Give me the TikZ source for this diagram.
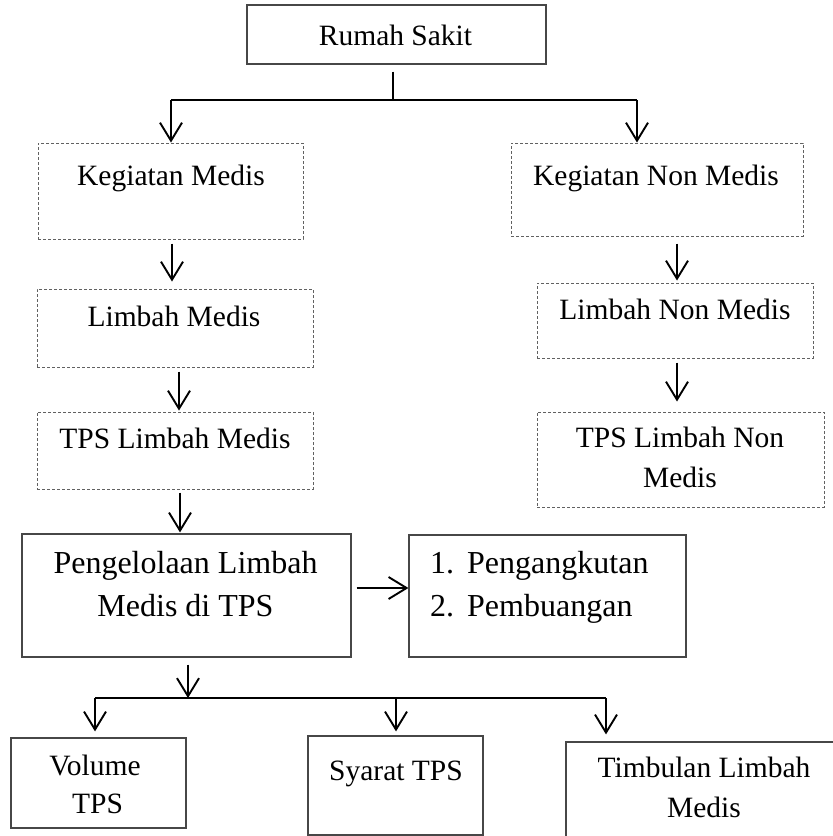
\documentclass[tikz,border=0pt]{standalone}
\usepackage{fontspec}
\setmainfont{Liberation Serif}
\usetikzlibrary{arrows.meta}
\begin{document}
\begin{tikzpicture}[x=1pt,y=-1pt,
  solidbox/.style={draw=black!72, line width=1.2pt, rectangle, inner sep=0pt},
  dashbox/.style={draw=black!62, line width=1pt, dash pattern=on 3.2pt off 1.8pt, rectangle, inner sep=0pt},
  txt/.style={anchor=base, inner sep=0pt, font=\fontsize{29.5}{35}\selectfont},
  bigtxt/.style={anchor=base, inner sep=0pt, font=\fontsize{32}{38}\selectfont},
  conn/.style={line width=1.9pt, black},
  arr/.style={conn, -{Straight Barb[length=18pt,width=22pt]}},
]
\path[use as bounding box, fill=white] (0,0) rectangle (833,836);

% boxes
\node[solidbox, minimum width=299pt, minimum height=59pt] (rs) at (396.5,34.5) {};
\node[dashbox, minimum width=265pt, minimum height=96pt] (km) at (170.5,191) {};
\node[dashbox, minimum width=292pt, minimum height=93pt] (knm) at (657,189.5) {};
\node[dashbox, minimum width=276pt, minimum height=78pt] (lm) at (175,328) {};
\node[dashbox, minimum width=276pt, minimum height=77pt] (tps) at (175,450.5) {};
\node[dashbox, minimum width=276pt, minimum height=75pt] (lnm) at (675,320.5) {};
\node[dashbox, minimum width=287pt, minimum height=95pt] (tpsn) at (680.5,459.5) {};
\node[solidbox, minimum width=329pt, minimum height=123pt] (peng) at (186.5,595.5) {};
\node[solidbox, minimum width=277pt, minimum height=122pt] (list) at (547.5,596) {};
\node[solidbox, minimum width=175pt, minimum height=90pt] (vol) at (98.5,783) {};
\node[solidbox, minimum width=175pt, minimum height=99pt] (syr) at (395.5,785.5) {};
\node[solidbox, minimum width=284pt, minimum height=108pt] (tim) at (708,796) {};

% texts
\node[txt] (t-rs) at (395.5,45) {Rumah Sakit};
\node[txt] (t-km) at (171,185) {Kegiatan Medis};
\node[txt] (t-knm) at (656,185) {Kegiatan Non Medis};
\node[txt] (t-lm) at (174,326) {Limbah Medis};
\node[txt] (t-tps) at (175,448) {TPS Limbah Medis};
\node[txt] (t-lnm) at (675,319) {Limbah Non Medis};
\node[txt] (t-tpsn1) at (680,447) {TPS Limbah Non};
\node[txt] (t-tpsn2) at (680,487) {Medis};
\node[bigtxt] (t-peng1) at (185.5,573) {Pengelolaan Limbah};
\node[bigtxt] (t-peng2) at (185.5,616) {Medis di TPS};
\node[bigtxt, anchor=base west] (t-n1) at (430,573) {1.};
\node[bigtxt, anchor=base west] (t-l1) at (467,573) {Pengangkutan};
\node[bigtxt, anchor=base west] (t-n2) at (430,616) {2.};
\node[bigtxt, anchor=base west] (t-l2) at (467,616) {Pembuangan};
\node[txt] (t-vol1) at (95,775) {Volume};
\node[txt] (t-vol2) at (97.5,813) {TPS};
\node[txt] (t-syr) at (396,780) {Syarat TPS};
\node[txt] (t-tim1) at (704,777) {Timbulan Limbah};
\node[txt] (t-tim2) at (704,817) {Medis};

% junction coordinates
\coordinate (j1) at (393,100);
\coordinate (jL) at (171,100);
\coordinate (jR) at (637,100);
\coordinate (j2) at (188,698);
\coordinate (j2L) at (95,698);
\coordinate (j2M) at (396,698);
\coordinate (j2R) at (606,698);

% connectors
\draw[conn, shorten <=7pt] (rs.south -| j1) -- (j1);
\draw[conn] (jL) -- (jR);
\draw[arr] (jL) -- (km.north -| jL);
\draw[arr] (jR) -- (knm.north -| jR);

\draw[arr, shorten <=4pt, shorten >=7pt] ([xshift=1.5pt]km.south) -- ([xshift=-3pt]lm.north);
\draw[arr, shorten <=4pt, shorten >=1pt] ([xshift=4pt]lm.south) -- ([xshift=4pt]tps.north);
\draw[arr, shorten <=3pt, shorten >=1pt] ([xshift=5pt]tps.south) -- ([xshift=-6.5pt]peng.north);

\draw[arr, shorten <=7pt, shorten >=2pt] ([xshift=20pt]knm.south) -- ([xshift=2pt]lnm.north);
\draw[arr, shorten <=4pt, shorten >=10pt] ([xshift=2pt]lnm.south) -- ([xshift=-3.5pt]tpsn.north);

\draw[arr, shorten <=5pt] ([yshift=7.5pt]peng.east) -- ([yshift=8pt]list.west);

\draw[arr, shorten <=7pt] ([xshift=1.5pt]peng.south) -- (j2);
\draw[conn] (j2L) -- (j2R);
\draw[arr, shorten >=6pt] (j2L) -- (vol.north -| j2L);
\draw[arr, shorten >=4pt] (j2M) -- (syr.north -| j2M);
\draw[arr, shorten >=7pt] (j2R) -- (tim.north -| j2R);
\end{tikzpicture}
\end{document}
